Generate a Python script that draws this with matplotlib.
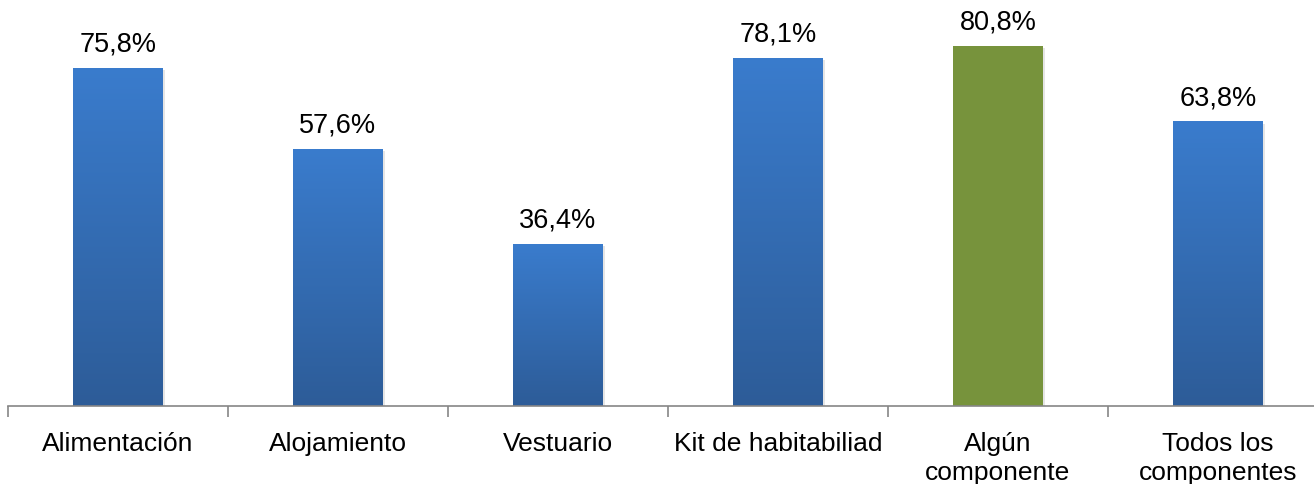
import matplotlib.pyplot as plt
import numpy as np
from matplotlib.colors import LinearSegmentedColormap

plt.rcParams['font.family'] = ['Liberation Sans', 'DejaVu Sans']

categories = ['Alimentación', 'Alojamiento', 'Vestuario', 'Kit de habitabiliad',
              'Algún\ncomponente', 'Todos los\ncomponentes']
values = [75.8, 57.6, 36.4, 78.1, 80.8, 63.8]
labels = ['75,8%', '57,6%', '36,4%', '78,1%', '80,8%', '63,8%']
highlight = 4  # green bar

W, H = 1314, 484
fig = plt.figure(figsize=(W / 100, H / 100), dpi=100)
# category slots are 220 px wide; the last one runs past the right edge
ax = fig.add_axes([8 / W, (H - 406) / H, 1320 / W, 406 / H])

x = np.arange(len(categories))
bw = 0.405
ax.set_xlim(-0.5, len(categories) - 0.5)
ax.set_ylim(0, 406 / 4.46)

blue = LinearSegmentedColormap.from_list('b', ['#2d5c98', '#3a7ccd'])
grad = np.linspace(0, 1, 256).reshape(-1, 1)

for i, v in enumerate(values):
    # soft shadow
    ax.bar(x[i] + 0.012, v, bw, bottom=-0.5, color='#000000', alpha=0.10, zorder=1)
    if i == highlight:
        ax.bar(x[i], v, bw, color='#77933c', zorder=2)
    else:
        b = ax.bar(x[i], v, bw, color='none', zorder=2)[0]
        im = ax.imshow(grad, cmap=blue, aspect='auto', origin='lower',
                       extent=(x[i] - bw / 2, x[i] + bw / 2, 0, v), zorder=2)
        im.set_clip_path(b)
    ax.text(x[i], v + 2.3, labels[i], ha='center', va='bottom', fontsize=19.5)

for s in ['top', 'right', 'left']:
    ax.spines[s].set_visible(False)
ax.spines['bottom'].set_color('#868686')
ax.spines['bottom'].set_linewidth(1.2)
ax.set_yticks([])
ax.set_xticks(np.arange(-0.5, len(categories), 1.0))
ax.set_xticklabels([])
ax.tick_params(axis='x', length=8, color='#868686', width=1.2)
ax.set_xticks(x, minor=True)
ax.set_xticklabels(categories, minor=True, fontsize=19, linespacing=1.25)
ax.tick_params(axis='x', which='minor', length=0, pad=19)

fig.savefig('out.png', dpi=100)
